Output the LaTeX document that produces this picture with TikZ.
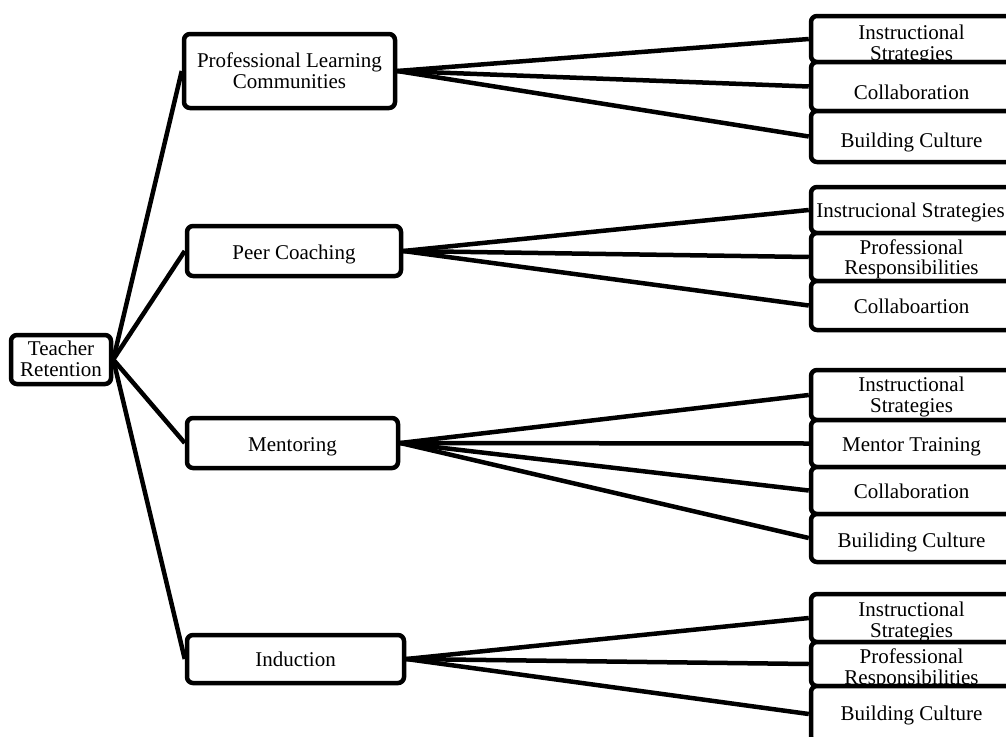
\documentclass[tikz,border=0pt]{standalone}
\usepackage{fontspec}
\setmainfont{Liberation Serif}
\pgfdeclarelayer{background}
\pgfsetlayers{background,main}
\begin{document}
\begin{tikzpicture}[x=1pt,y=-1pt,
  box/.style={draw, line width=4.5pt, rounded corners=6pt, fill=white, inner sep=0pt},
  rbox/.style={box, minimum width=229pt},
  txt/.style={anchor=base, inner sep=0pt, font=\fontsize{21}{21}\selectfont},
  link/.style={line width=4.5pt}]
\useasboundingbox (0,0) rectangle (1006,736);
\clip (0,0) rectangle (1006,736);

% root
\node[box, minimum width=100pt, minimum height=49pt] (root) at (61,359.5) {};
\node[txt] (rootA) at (61,355.7) {Teacher};
\node[txt] (rootB) at (61,376.7) {Retention};

% middle level
\node[box, minimum width=211pt, minimum height=74pt] (plc) at (289.5,71) {};
\node[txt] (plcA) at (289.5,67.7) {Professional Learning};
\node[txt] (plcB) at (289.5,88.5) {Communities};

\node[box, minimum width=214pt, minimum height=50pt] (peer) at (294,251) {};
\node[txt] (peerA) at (294,259) {Peer Coaching};

\node[box, minimum width=211pt, minimum height=50pt] (ment) at (292.5,443) {};
\node[txt] (mentA) at (292.5,451.7) {Mentoring};

\node[box, minimum width=217pt, minimum height=48pt] (ind) at (295.5,659) {};
\node[txt] (indA) at (295.5,666.7) {Induction};

% group 1
\node[rbox, minimum height=46pt] (a1) at (925.5,39) {};
\node[txt] (a1t) at (911.5,39) {Instructional};
\node[txt] (a1u) at (911.5,60) {Strategies};
\node[rbox, minimum height=49pt] (a2) at (925.5,86.5) {};
\node[txt] (a2t) at (911.5,99) {Collaboration};
\node[rbox, minimum height=51pt] (a3) at (925.5,136.5) {};
\node[txt] (a3t) at (911.5,147) {Building Culture};

% group 2
\node[rbox, minimum height=46pt] (b1) at (925.5,210) {};
\node[txt] (b1t) at (910.5,217.5) {Instrucional Strategies};
\node[rbox, minimum height=48pt] (b2) at (925.5,257) {};
\node[txt] (b2t) at (911.5,254) {Professional};
\node[txt] (b2u) at (911.5,274.5) {Responsibilities};
\node[rbox, minimum height=49pt] (b3) at (925.5,305.5) {};
\node[txt] (b3t) at (911.5,313.3) {Collaboartion};

% group 3
\node[rbox, minimum height=50pt] (c1) at (925.5,395) {};
\node[txt] (c1t) at (911.5,391) {Instructional};
\node[txt] (c1u) at (911.5,412.5) {Strategies};
\node[rbox, minimum height=47pt] (c2) at (925.5,443.5) {};
\node[txt] (c2t) at (911.5,451.5) {Mentor Training};
\node[rbox, minimum height=47pt] (c3) at (925.5,490.5) {};
\node[txt] (c3t) at (911.5,498.5) {Collaboration};
\node[rbox, minimum height=48pt] (c4) at (925.5,538) {};
\node[txt] (c4t) at (911.5,547) {Builiding Culture};

% group 4
\node[rbox, minimum height=48pt] (d1) at (925.5,618) {};
\node[txt] (d1t) at (911.5,616) {Instructional};
\node[txt] (d1u) at (911.5,637) {Strategies};
\node[rbox, minimum height=44pt] (d2) at (925.5,664) {};
\node[txt] (d2t) at (911.5,663) {Professional};
\node[txt] (d2u) at (911.5,684) {Responsibilities};
\node[rbox, minimum height=56pt] (d3) at (925.5,714) {};
\node[txt] (d3t) at (911.5,720) {Building Culture};

\begin{pgfonlayer}{background}
\draw[link] (root.east) -- (plc.west);
\draw[link] (root.east) -- (peer.west);
\draw[link] (root.east) -- (ment.west);
\draw[link] (root.east) -- (ind.west);
\foreach \t in {a1,a2,a3} \draw[link] (plc.east) -- (\t.west);
\foreach \t in {b1,b2,b3} \draw[link] (peer.east) -- (\t.west);
\foreach \t in {c1,c2,c3,c4} \draw[link] (ment.east) -- (\t.west);
\foreach \t in {d1,d2,d3} \draw[link] (ind.east) -- (\t.west);
\end{pgfonlayer}
\end{tikzpicture}
\end{document}
